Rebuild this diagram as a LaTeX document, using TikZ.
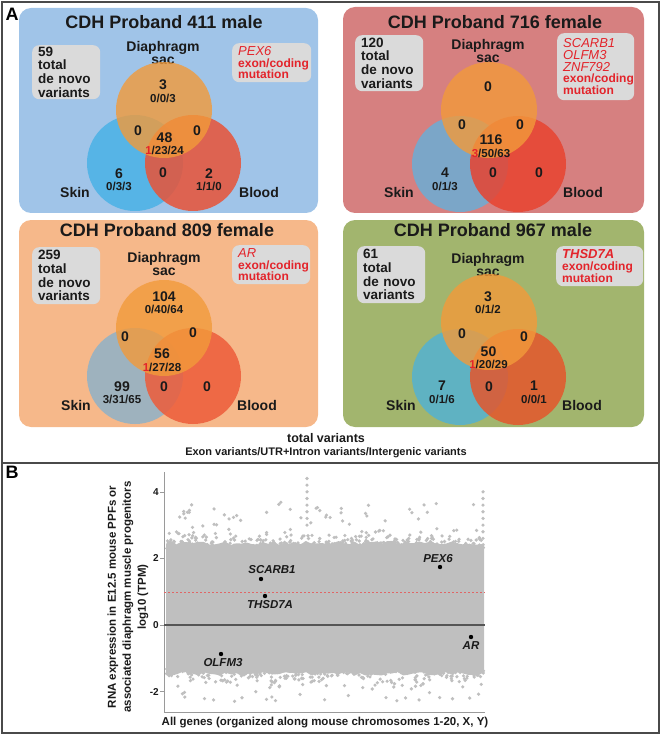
\documentclass[tikz,border=0pt]{standalone}
\usepackage{fontspec}
\setmainfont{Liberation Sans}
\usepackage{xcolor}
\definecolor{cFrame}{HTML}{4A4A4A}
\definecolor{cRed}{HTML}{E3242B}
\definecolor{cTag}{HTML}{DADADA}
\definecolor{cInk}{HTML}{1A1A1A}
\definecolor{cSac}{HTML}{F29A3A}
\definecolor{cBgBlue}{HTML}{A0C4E8}
\definecolor{cBgRose}{HTML}{D68080}
\definecolor{cBgPeach}{HTML}{F6B88A}
\definecolor{cBgOlive}{HTML}{A2B56E}
\definecolor{cSkinA}{HTML}{56B4E6}
\definecolor{cSkinB}{HTML}{7BA6C8}
\definecolor{cSkinC}{HTML}{9EB2BE}
\definecolor{cSkinD}{HTML}{5FB2C2}
\definecolor{cBloodA}{HTML}{E85337}
\definecolor{cBloodB}{HTML}{E84330}
\definecolor{cBloodC}{HTML}{ED5C3A}
\definecolor{cBloodD}{HTML}{E4562C}
\definecolor{cDot}{HTML}{BFBFBF}
\definecolor{cAxis}{HTML}{9A9A9A}
\definecolor{cZero}{HTML}{555555}
\definecolor{cThresh}{HTML}{E06666}
\usepackage{tikz}
\usetikzlibrary{positioning}
\newcommand{\fsz}[2]{\fontsize{#1}{#2}\selectfont}
\newcommand{\gn}[1]{{\mdseries\itshape\fsz{13}{13}#1}}
\newcommand{\subcount}[1]{{\fsz{11.5}{12}#1}}
\tikzset{
  panel-box/.style={rounded corners=12pt},
  panel-letter/.style={font=\bfseries\fsz{18}{18},inner sep=0pt},
  panel-title/.style={font=\bfseries\fsz{18}{18},text=cInk},
  set-name/.style={font=\bfseries\fsz{14}{13},align=center,text=cInk},
  num-big/.style={font=\bfseries\fsz{14}{14},inner sep=0pt,text=cInk},
  num-pair/.style={font=\bfseries\fsz{14}{12.5},align=center,inner sep=0pt,text=cInk},
  tag-total/.style={fill=cTag,rounded corners=7pt,anchor=north west,align=left,
    text width=56pt,inner xsep=6pt,inner ysep=0pt,font=\bfseries\fsz{13.5}{13.7},text=cInk},
  tag-gene/.style={tag-total,text=cRed,font=\bfseries\fsz{12}{11.8}},
  venn-sac/.style={fill=cSac,fill opacity=0.8},
  venn-blood/.style={fill opacity=0.85},
  hit/.style={circle,fill=black,inner sep=0pt,minimum size=4.4pt},
  hit-name/.style={font=\bfseries\itshape\fsz{11.5}{12},inner sep=0pt,text=cInk},
  tick-num/.style={font=\bfseries\fsz{10}{10},anchor=east,inner sep=1pt,text=cInk},
  axis-title/.style={font=\bfseries\fsz{11.5}{15},align=center,text=cInk},
}

\begin{document}
\begin{tikzpicture}[x=1pt,y=-1pt]
  \useasboundingbox (0,0) rectangle (662,735);
  \draw[cFrame,line width=1.6pt] (2,2) rectangle (659,463);
  \draw[cFrame,line width=1.6pt] (2,463) rectangle (659,733);
  \node[panel-letter] (lblA) at (12,14) {A};

  % proband 411
  \fill[panel-box,cBgBlue] (19,8) rectangle (318,213);
  \node[panel-title] (t411) at (164,22) {CDH Proband 411 male};
  \node[tag-total,minimum height=54pt] (tot411) at (32,45) {59\\total\\de novo\\variants};
  \node[tag-gene,text width=67pt,minimum height=39pt] (gene411) at (232,43) {\gn{PEX6}\\exon/coding\\mutation};
  \node[set-name] (sac411) at (163,53) {Diaphragm\\sac};
  \fill[cSkinA] (135,163) circle[radius=48pt];
  \fill[cBloodA,venn-blood] (193,163) circle[radius=48pt];
  \fill[venn-sac] (164,110) circle[radius=48pt];
  \node[set-name] (skin411) at (75,192) {Skin};
  \node[set-name] (blood411) at (259,192) {Blood};
  \node[num-pair] (a411) at (163,91) {3\\\subcount{0/0/3}};
  \node[num-big] (ab411) at (138,131) {0};
  \node[num-big] (ac411) at (197,131) {0};
  \node[num-pair] (abc411) at (164.5,143.5) {48\\\subcount{\textcolor{cRed}{1}/23/24}};
  \node[num-pair] (b411) at (119,179.5) {6\\\subcount{0/3/3}};
  \node[num-big] (bc411) at (163,173) {0};
  \node[num-pair] (c411) at (209,179.5) {2\\\subcount{1/1/0}};

  % proband 716
  \fill[panel-box,cBgRose] (343,7) rectangle (644,213);
  \node[panel-title] (t716) at (495,22) {CDH Proband 716 female};
  \node[tag-total,minimum height=56pt] (tot716) at (355,35) {120\\total\\de novo\\variants};
  \node[tag-gene,text width=65pt,minimum height=67pt] (gene716) at (557,33) {\gn{SCARB1}\\\gn{OLFM3}\\\gn{ZNF792}\\exon/coding\\mutation};
  \node[set-name] (sac716) at (488,51) {Diaphragm\\sac};
  \fill[cSkinB] (460,164) circle[radius=48pt];
  \fill[cBloodB,venn-blood] (518,164) circle[radius=48pt];
  \fill[venn-sac] (489,110) circle[radius=48pt];
  \node[set-name] (skin716) at (399,192) {Skin};
  \node[set-name] (blood716) at (583,192) {Blood};
  \node[num-big] (a716) at (488,87) {0};
  \node[num-big] (ab716) at (462,125) {0};
  \node[num-big] (ac716) at (520,125) {0};
  \node[num-pair] (abc716) at (491,146) {116\\\subcount{\textcolor{cRed}{3}/50/63}};
  \node[num-pair] (b716) at (445,179.5) {4\\\subcount{0/1/3}};
  \node[num-big] (bc716) at (493,173) {0};
  \node[num-big] (c716) at (539,173) {0};

  % proband 809
  \fill[panel-box,cBgPeach] (19,220) rectangle (318,427);
  \node[panel-title] (t809) at (167,230) {CDH Proband 809 female};
  \node[tag-total,minimum height=57pt] (tot809) at (32,247) {259\\total\\de novo\\variants};
  \node[tag-gene,text width=66pt,minimum height=39pt] (gene809) at (232,245) {\gn{AR}\\exon/coding\\mutation};
  \node[set-name] (sac809) at (164,264) {Diaphragm\\sac};
  \fill[cSkinC] (135,376) circle[radius=48pt];
  \fill[cBloodC,venn-blood] (193,376) circle[radius=48pt];
  \fill[venn-sac] (164,328) circle[radius=48pt];
  \node[set-name] (skin809) at (76,405) {Skin};
  \node[set-name] (blood809) at (257,405) {Blood};
  \node[num-pair] (a809) at (164,302.5) {104\\\subcount{0/40/64}};
  \node[num-big] (ab809) at (125,337) {0};
  \node[num-big] (ac809) at (193,333) {0};
  \node[num-pair] (abc809) at (162,360) {56\\\subcount{\textcolor{cRed}{1}/27/28}};
  \node[num-pair] (b809) at (122,392.5) {99\\\subcount{3/31/65}};
  \node[num-big] (bc809) at (164,387) {0};
  \node[num-big] (c809) at (207,387) {0};

  % proband 967
  \fill[panel-box,cBgOlive] (343,220) rectangle (644,427);
  \node[panel-title] (t967) at (493,230) {CDH Proband 967 male};
  \node[tag-total,minimum height=57pt] (tot967) at (357,246) {61\\total\\de novo\\variants};
  \node[tag-gene,text width=75pt,minimum height=40pt] (gene967) at (556,246) {{\itshape\fsz{13}{13}THSD7A}\\exon/coding\\mutation};
  \node[set-name] (sac967) at (488,265) {Diaphragm\\sac};
  \fill[cSkinD] (460,377) circle[radius=48pt];
  \fill[cBloodD,venn-blood] (518,377) circle[radius=48pt];
  \fill[venn-sac] (489,322) circle[radius=48pt];
  \node[set-name] (skin967) at (401,405) {Skin};
  \node[set-name] (blood967) at (582,405) {Blood};
  \node[num-pair] (a967) at (488,302.5) {3\\\subcount{0/1/2}};
  \node[num-big] (ab967) at (462,334) {0};
  \node[num-big] (ac967) at (524,337) {0};
  \node[num-pair] (abc967) at (488.5,357.5) {50\\\subcount{\textcolor{cRed}{1}/20/29}};
  \node[num-pair] (b967) at (442,392.5) {7\\\subcount{0/1/6}};
  \node[num-big] (bc967) at (489,387) {0};
  \node[num-pair] (c967) at (534,392.5) {1\\\subcount{0/0/1}};

  \node[font=\bfseries\fsz{12.5}{13},text=cInk] (capTot) at (326,438) {total variants};
  \node[font=\bfseries\fsz{11}{12},text=cInk] (capSplit) at (326,453) {Exon variants/UTR+Intron variants/Intergenic variants};

  % panel B: expression scatter
  \node[panel-letter] (lblB) at (12,472) {B};
  \pgfmathsetseed{42}
  \fill[cDot] plot[domain=166:484,samples=60] (\x,{625-33.3*(2.4+0.12*rnd)})
    -- plot[domain=484:166,samples=60] (\x,{625+33.3*(1.4+0.12*rnd)}) -- cycle;
  \foreach \i in {1,...,420}{
    \pgfmathsetmacro\px{166+318*rnd}
    \pgfmathsetmacro\py{625-33.3*(2.3+0.6*rnd*rnd)}
    \fill[cDot] (\px,\py) circle[radius=1.8pt];
  }
  \foreach \i in {1,...,420}{
    \pgfmathsetmacro\px{166+318*rnd}
    \pgfmathsetmacro\py{625+33.3*(1.3+0.6*rnd*rnd)}
    \fill[cDot] (\px,\py) circle[radius=1.8pt];
  }
  \foreach \i in {1,...,45}{
    \pgfmathsetmacro\px{168+314*rnd}
    \pgfmathsetmacro\py{625-33.3*(2.9+0.8*rnd)}
    \fill[cDot] (\px,\py) circle[radius=1.8pt];
  }
  \foreach \i in {1,...,30}{
    \pgfmathsetmacro\px{168+314*rnd}
    \pgfmathsetmacro\py{625+33.3*(1.85+0.45*rnd)}
    \fill[cDot] (\px,\py) circle[radius=1.8pt];
  }
  \foreach \v in {3.0,3.2,...,4.4} \fill[cDot] (307,{625-33.3*\v}) circle[radius=1.8pt];
  \foreach \v in {2.6,2.8,...,4.1} \fill[cDot] (483,{625-33.3*\v}) circle[radius=1.8pt];

  \coordinate (yTop) at (164,472);
  \coordinate (org) at (164,712);
  \coordinate (xEnd) at (485,712);
  \draw[cAxis,line width=0.8pt] (yTop) -- (org) -- (xEnd);
  \foreach \v in {4,2,0,-2}{
    \draw[cAxis,line width=0.6pt] (160,{625-33.3*\v}) -- (164,{625-33.3*\v});
    \node[tick-num] (tick\v) at (160,{625-33.3*\v}) {\v};
  }
  \draw[cZero,line width=1.1pt] (164,625) -- (485,625);
  \draw[cThresh,dash pattern=on 2pt off 2pt,line width=0.7pt] (164,592) -- (485,592);

  \node[hit] (hScarb) at (261,579) {};
  \node[hit-name,above=3pt of hScarb,xshift=11pt] (nScarb) {SCARB1};
  \node[hit] (hThsd) at (265,596) {};
  \node[hit-name,below=2pt of hThsd,xshift=5pt] (nThsd) {THSD7A};
  \node[hit] (hOlfm) at (221,654) {};
  \node[hit-name,below=2pt of hOlfm,xshift=2pt] (nOlfm) {OLFM3};
  \node[hit] (hPex) at (440,567) {};
  \node[hit-name,above=2pt of hPex,xshift=-2pt] (nPex) {PEX6};
  \node[hit] (hAr) at (471,637) {};
  \node[hit-name,below=2pt of hAr] (nAr) {AR};

  \node[axis-title,rotate=90] (ylab) at (128,597) {RNA expression in E12.5 mouse PPFs or\\associated diaphragm muscle progenitors\\log10 (TPM)};
  \node[axis-title] (xlab) at (325,723) {All genes (organized along mouse chromosomes 1-20, X, Y)};
\end{tikzpicture}
\end{document}
